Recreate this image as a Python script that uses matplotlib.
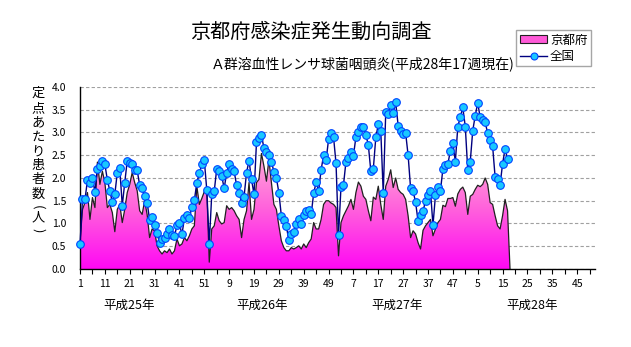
import numpy as np
import matplotlib
matplotlib.use('Agg')
import matplotlib.pyplot as plt
from matplotlib.colors import LinearSegmentedColormap
from matplotlib.patches import Patch
from matplotlib.lines import Line2D

plt.rcParams['font.family'] = ['Noto Sans CJK JP', 'DejaVu Sans']

# weekly reports per sentinel site, 平成25年 week 1 .. 平成28年 week 17
national = [
    0.54, 1.53, 1.53, 1.95, 1.88, 2.0, 1.69, 2.2, 2.26, 2.38,
    2.3, 1.96, 1.71, 1.47, 1.64, 2.12, 2.21, 1.39, 1.9, 2.38,
    2.32, 2.3, 2.17, 2.17, 1.84, 1.78, 1.61, 1.46, 1.08, 1.14,
    0.96, 0.8, 0.57, 0.66, 0.69, 0.78, 0.88, 0.74, 0.72, 0.96,
    1.0, 0.76, 1.11, 1.18, 1.11, 1.37, 1.51, 1.9, 2.1, 2.3,
    2.39, 1.74, 0.56, 1.64, 1.71, 2.2, 2.15, 2.05, 1.77, 2.12,
    2.3, 2.2, 2.15, 1.84, 1.68, 1.45, 1.59, 2.12, 2.38, 1.97,
    1.64, 2.79, 2.88, 2.95, 2.65, 2.57, 2.5, 2.36, 2.14, 2.0,
    1.68, 1.17, 1.08, 0.95, 0.63, 0.77, 0.82, 0.99, 1.09, 0.99,
    1.18, 1.27, 1.3, 1.2, 1.66, 1.91, 1.71, 2.18, 2.5, 2.39,
    2.85, 2.99, 2.9, 2.32, 0.74, 1.81, 1.85, 2.36, 2.45, 2.58,
    2.49, 2.9, 3.01, 3.13, 3.13, 2.95, 2.72, 2.15, 2.2, 2.89,
    3.18, 3.04, 1.66, 3.45, 3.4, 3.6, 3.42, 3.66, 3.15, 3.04,
    2.97, 2.99, 2.5, 1.77, 1.71, 1.47, 1.05, 1.18, 1.27, 1.5,
    1.62, 1.71, 0.96, 1.62, 1.81, 1.72, 2.2, 2.29, 2.31, 2.6,
    2.77, 2.36, 3.13, 3.34, 3.55, 3.13, 2.17, 2.36, 3.04, 3.37,
    3.65, 3.33, 3.28, 3.22, 2.99, 2.84, 2.7, 2.02, 1.98, 1.85,
    2.31, 2.64, 2.42,
]

kyoto = [
    0.6, 1.31, 1.46, 1.68, 1.09, 1.57, 1.35, 2.35, 1.86, 2.15,
    1.9, 1.35, 1.42, 1.24, 0.82, 1.31, 1.42, 1.02, 1.31, 1.68,
    1.86, 2.12, 1.9, 1.72, 1.28, 1.2, 1.5, 1.2, 0.69, 0.88,
    0.84, 0.51, 0.4, 0.33, 0.4, 0.36, 0.44, 0.33, 0.4, 0.66,
    0.51, 0.55, 0.69, 0.62, 0.73, 0.88, 0.95, 1.82, 1.42, 1.55,
    1.7, 1.75, 0.15, 0.88, 0.95, 1.24, 1.06, 0.99, 1.02, 1.39,
    1.31, 1.35, 1.28, 1.17, 1.09, 0.69, 1.09, 1.28, 1.9, 1.09,
    1.31, 1.9, 1.97, 2.54, 2.26, 1.93, 2.41, 1.9, 1.42, 1.31,
    0.95, 0.62, 0.47, 0.4, 0.4, 0.47, 0.44, 0.47, 0.51, 0.44,
    0.55, 0.47, 0.58, 0.66, 1.02, 0.88, 0.88, 1.09, 1.42, 1.5,
    1.5, 1.45, 1.42, 1.35, 0.29, 1.02, 1.17, 1.28, 1.39, 1.53,
    1.31, 1.68, 1.91, 1.82, 1.6, 1.53, 1.28, 1.06, 1.58, 1.53,
    1.82, 1.42, 1.09, 1.82, 1.97, 2.18, 1.79, 2.0, 1.75, 1.68,
    1.64, 1.53, 1.17, 0.69, 0.84, 0.77, 0.58, 0.44, 0.85, 0.95,
    1.02, 1.09, 0.73, 0.88, 1.02, 1.09, 1.4, 1.37, 1.55, 1.55,
    1.57, 1.38, 1.65, 1.75, 1.8, 1.68, 1.2, 1.6, 1.64, 1.75,
    1.84, 1.81, 1.86, 2.0, 1.86, 1.46, 1.42, 1.17, 0.95, 0.88,
    1.17, 1.53, 1.28, 0.0,
]

tick_labels = ['1', '11', '21', '31', '41', '51', '9', '19', '29', '39', '49',
               '7', '17', '27', '37', '47', '5', '15', '25', '35', '45']
year_labels = ['平成25年', '平成26年', '平成27年', '平成28年']
year_pos = [20.7, 74.4, 128.6, 182.9]
ylabel_chars = ['定', '点', 'あ', 'た', 'り', '患', '者', '数', '(', '人', ')']

wk_n = np.arange(1, len(national) + 1)
wk_k = np.arange(1, len(kyoto) + 1)

fig = plt.figure(figsize=(6.31, 3.47), dpi=100)
ax = fig.add_axes([0.1268, 0.2248, 0.8162, 0.5245])

# Kyoto area with vertical gradient fill
fill = ax.fill_between(wk_k, kyoto, 0, color='none', lw=0)
cmap = LinearSegmentedColormap.from_list('pk', ['#ff08f4', '#ff60dc', '#ffb0d8'])
grad = np.linspace(0, 1, 256).reshape(-1, 1)
im = ax.imshow(grad, cmap=cmap, aspect='auto', origin='lower',
               extent=[1, len(kyoto), 0, 2.6], zorder=1)
im.set_clip_path(fill.get_paths()[0], transform=ax.transData)
ax.plot(wk_k, kyoto, color='#202020', lw=0.9, zorder=2)

# national line
ax.plot(wk_n, national, color='#000080', lw=1.0, marker='o', ms=5.5,
        mfc='#19c8ff', mec='#0044ff', mew=0.8, zorder=3, clip_on=False)

ax.set_xlim(1, 208.2)
ax.set_ylim(0, 4.0)
ax.set_yticks(np.arange(0, 4.01, 0.5))
ax.set_yticklabels([f'{v:.1f}' for v in np.arange(0, 4.01, 0.5)], fontsize=7.5)
ax.yaxis.grid(True, color='#a0a0a0', ls=(0, (3, 2)), lw=0.8)
ax.set_axisbelow(True)
ax.tick_params(axis='y', length=0, pad=10)

ax.set_xticks(np.arange(1, 202, 10))
ax.set_xticklabels(tick_labels, fontsize=7.5)
ax.set_xticks(np.arange(1, 209, 5), minor=True)
ax.tick_params(axis='x', which='both', length=3.5, direction='out', pad=4, width=0.8)

for s in ['top', 'right']:
    ax.spines[s].set_visible(False)
for s in ['left', 'bottom']:
    ax.spines[s].set_linewidth(1.0)

for lab, p in zip(year_labels, year_pos):
    ax.text(p, -0.8, lab, ha='center', va='center', fontsize=9, clip_on=False)

# vertical y label, brackets turned for vertical writing
ys = [93, 109, 123, 137, 152, 166, 180, 194, 207, 218, 230]
for ch, yy in zip(ylabel_chars, ys):
    rot = 270 if ch in '()' else 0
    fig.text(38 / 631, 1 - yy / 347, ch, ha='center', va='center', fontsize=9.5,
             rotation=rot, rotation_mode='anchor')

fig.text(0.493, 0.908, '京都府感染症発生動向調査', ha='center', va='center', fontsize=14.5)
fig.text(0.815, 0.816, 'Ａ群溶血性レンサ球菌咽頭炎(平成28年17週現在)', ha='right',
         va='center', fontsize=10)

handles = [Patch(facecolor='#ff5ad8', edgecolor='#202020', lw=0.8),
           Line2D([], [], color='#000080', lw=1.0, marker='o', ms=5,
                  mfc='#19c8ff', mec='#0044ff', mew=0.8)]
fig.legend(handles, ['京都府', '全国'], loc='upper left', bbox_to_anchor=(0.818, 0.914),
           frameon=True, fancybox=False, edgecolor='#909090', fontsize=9,
           handlelength=2.2, handleheight=0.6, borderpad=0.3, labelspacing=0.25,
           handletextpad=0.2, borderaxespad=0)

fig.savefig('out.png', dpi=100)
